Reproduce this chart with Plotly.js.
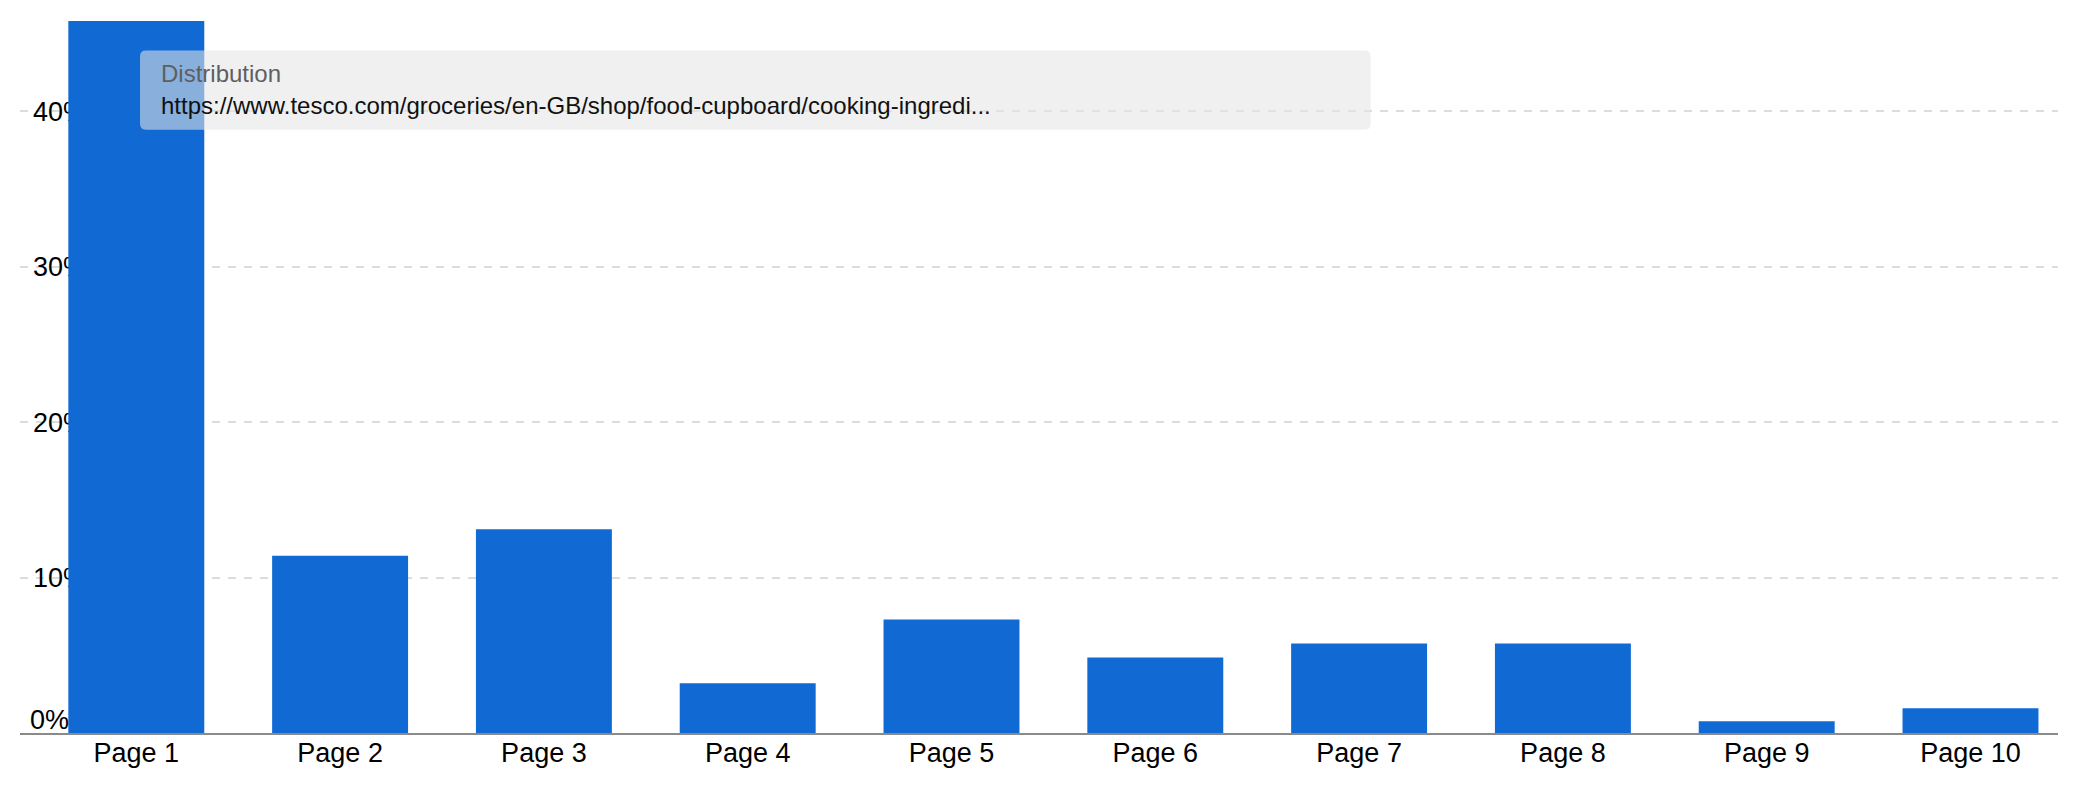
<!DOCTYPE html>
<html>
<head>
<meta charset="utf-8">
<script src="https://cdn.plot.ly/plotly-3.0.1.min.js"></script>
<style>
  html, body { margin: 0; padding: 0; background: #fff; }
  #chart { width: 2078px; height: 800px; }
</style>
</head>
<body>
<div id="chart"></div>
<script>
// Chart data
const pages = ['Page 1', 'Page 2', 'Page 3', 'Page 4', 'Page 5',
               'Page 6', 'Page 7', 'Page 8', 'Page 9', 'Page 10'];
const shares = [46, 11.4, 13.1, 3.2, 7.3, 4.85, 5.75, 5.75, 0.75, 1.6];
const yTicks = [0, 10, 20, 30, 40];
const yMax = 45.8;

const tipTitle = 'Distribution';
const tipUrl = 'https://www.tesco.com/groceries/en-GB/shop/food-cupboard/cooking-ingredi...';

// Page geometry (pixels)
const W = 2078, H = 800;
const plot = { left: 20, right: 2057.7, top: 20.5, bottom: 733.3 };
const FONT = 'Liberation Sans, Arial, sans-serif';

// pixel -> paper helpers for the overlay
const px = x => (x - plot.left) / (plot.right - plot.left);
const py = y => (plot.bottom - y) / (plot.bottom - plot.top);

/**
 * Rounded rectangle path in paper units
 */
function roundRect(x0, y0, x1, y1, r) {
    const rx = r / (plot.right - plot.left);
    const ry = r / (plot.bottom - plot.top);
    const L = px(x0), R = px(x1), T = py(y0), B = py(y1);
    return `M ${L + rx} ${T} L ${R - rx} ${T} Q ${R} ${T} ${R} ${T - ry} ` +
           `L ${R} ${B + ry} Q ${R} ${B} ${R - rx} ${B} ` +
           `L ${L + rx} ${B} Q ${L} ${B} ${L} ${B + ry} ` +
           `L ${L} ${T - ry} Q ${L} ${T} ${L + rx} ${T} Z`;
}

const trace = {
    type: 'bar',
    x: pages,
    y: shares,
    marker: { color: '#116ad4', line: { width: 0 } },
    hoverinfo: 'skip'
};

// first tick label sits just above the baseline, the rest are centred on the grid
const lowTick = yTicks[0];
const gridTicks = yTicks.slice(1);

// bars sit a little right of the band centres
const shift = 14.4 / 203.8;

const layout = {
    width: W,
    height: H,
    margin: { l: plot.left, r: W - plot.right, t: plot.top, b: H - plot.bottom, pad: 0 },
    paper_bgcolor: '#ffffff',
    plot_bgcolor: '#ffffff',
    showlegend: false,
    bargap: 0.333,
    font: { family: FONT, color: '#000000' },
    xaxis: {
        type: 'category',
        range: [-0.5 - shift, pages.length - 0.5 - shift],
        showgrid: false,
        zeroline: false,
        showline: true,
        linecolor: '#8a8a8a',
        linewidth: 1.5,
        ticks: '',
        tickfont: { family: FONT, size: 27, color: '#000000' },
        ticklabelstandoff: -5,
        fixedrange: true
    },
    yaxis: {
        range: [0, yMax],
        tickvals: gridTicks,
        ticktext: gridTicks.map(v => v + '%'),
        ticklabelposition: 'inside',
        ticklabelstandoff: 10,
        layer: 'below traces',
        ticks: '',
        showgrid: true,
        gridcolor: '#dcdcdc',
        gridwidth: 2,
        griddash: '8px,8px',
        zeroline: false,
        showline: false,
        tickfont: { family: FONT, size: 27, color: '#000000' },
        fixedrange: true
    },
    shapes: [
        // tooltip card over the first bar
        {
            type: 'path',
            xref: 'paper', yref: 'paper',
            path: roundRect(140, 50, 1370.5, 129.3, 6),
            fillcolor: 'rgba(228,228,228,0.57)',
            line: { width: 0 },
            layer: 'above'
        }
    ],
    annotations: [
        {
            text: lowTick + '%',
            xref: 'paper', yref: 'y',
            x: 0, y: lowTick,
            xanchor: 'left', yanchor: 'bottom',
            xshift: 8, yshift: -4,
            showarrow: false,
            font: { family: FONT, size: 27, color: '#000000' }
        },
        {
            text: tipTitle,
            xref: 'paper', yref: 'paper',
            x: px(159), y: py(73),
            xanchor: 'left', yanchor: 'middle',
            showarrow: false,
            font: { family: FONT, size: 24, color: '#5f5f5f' }
        },
        {
            text: tipUrl,
            xref: 'paper', yref: 'paper',
            x: px(159), y: py(105),
            xanchor: 'left', yanchor: 'middle',
            showarrow: false,
            font: { family: FONT, size: 24, color: '#111111' }
        }
    ]
};

Plotly.newPlot('chart', [trace], layout, { displayModeBar: false, staticPlot: true });
</script>
</body>
</html>
